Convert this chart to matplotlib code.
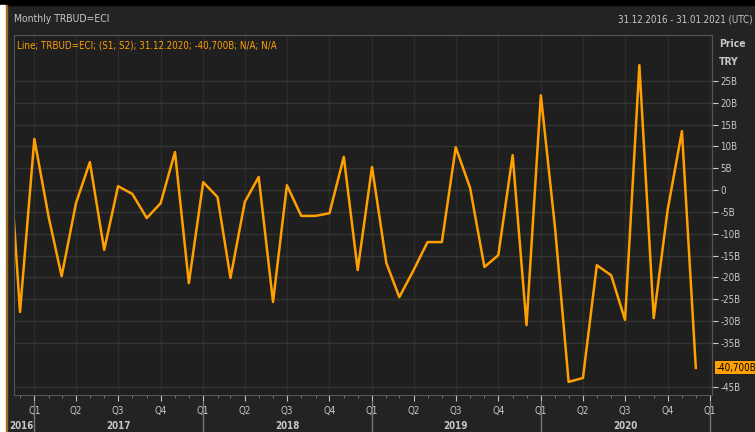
import matplotlib
matplotlib.use('Agg')
from matplotlib import pyplot as plt
import matplotlib.dates as mdates
import matplotlib.transforms as mtransforms
import pandas as pd
import numpy as np

plt.rcParams['font.family'] = ['Liberation Sans Narrow', 'DejaVu Sans']
plt.rcParams['font.stretch'] = 'condensed'

# Monthly TRBUD=ECI, billions TRY (Nov 2016 - Dec 2020)
months = pd.date_range('2016-11-01', periods=50, freq='MS')
values = [19.9, -27.9,
          11.7, -6.2, -19.7, -3.0, 6.4, -13.7, 0.9, -0.9, -6.4, -3.0, 8.7, -21.3,
          1.8, -1.6, -20.1, -2.7, 3.0, -25.6, 1.1, -5.9, -5.9, -5.3, 7.6, -18.3,
          5.3, -16.7, -24.5, -18.3, -11.9, -11.9, 9.8, 0.5, -17.6, -14.9, 8.0, -30.9,
          21.7, -9.0, -43.9, -43.0, -17.2, -19.5, -29.7, 28.6, -29.3, -4.6, 13.5, -40.7]
y_ticks = [25, 20, 15, 10, 5, 0, -5, -10, -15, -20, -25, -30, -35, -45]
years = [2017, 2018, 2019, 2020]
last_label = '-40,700B'

bg = '#232323'
txt = '#c8c8c8'
orange = '#ffa000'
fs = 7

fig = plt.figure(figsize=(7.55, 4.32), dpi=100, facecolor=bg)
ax = fig.add_axes([14/755, 37/432, 698/755, 360/432], facecolor='#1f1f1f')

ax.plot(months, values, color=orange, lw=1.8)

ax.set_xlim(pd.Timestamp('2016-11-18'), pd.Timestamp('2021-01-05'))
ax.set_ylim(-46.9, 35.5)

# grid
ax.set_yticks(y_ticks)
ax.set_yticklabels([('%dB' % v) if v != 0 else '0' for v in y_ticks])
ax.yaxis.tick_right()
ax.tick_params(axis='y', colors=txt, length=4, width=0.8, labelsize=fs, pad=2)
ax.grid(True, axis='y', color='#343434', lw=1)

ax.xaxis.set_major_locator(mdates.MonthLocator(bymonth=[1, 4, 7, 10]))
ax.xaxis.set_minor_locator(mdates.MonthLocator())
ax.xaxis.set_major_formatter(plt.FuncFormatter(
    lambda x, pos: 'Q%d' % ((mdates.num2date(x).month - 1) // 3 + 1)))
ax.tick_params(axis='x', which='major', colors=txt, length=4, labelsize=fs, pad=4)
ax.tick_params(axis='x', which='minor', colors='#888888', length=2)
ax.grid(True, axis='x', which='major', color='#2c2c2c', lw=1)

for s in ax.spines.values():
    s.set_color('#555555')

# year labels and separators
trans = mtransforms.blended_transform_factory(ax.transData, ax.transAxes)
for yr in years:
    ax.text(mdates.date2num(pd.Timestamp('%d-07-01' % yr)), -0.085, str(yr),
            transform=trans, ha='center', va='center', color=txt,
            fontsize=fs, fontweight='bold')
    ax.plot([pd.Timestamp('%d-01-01' % yr)] * 2, [-0.02, -0.105], transform=trans,
            color='#777777', lw=1, clip_on=False)
ax.plot([pd.Timestamp('2021-01-01')] * 2, [-0.02, -0.105], transform=trans,
        color='#777777', lw=1, clip_on=False)
ax.text(mdates.date2num(pd.Timestamp('2016-12-05')), -0.085, '2016',
        transform=trans, ha='center', va='center', color=txt,
        fontsize=fs, fontweight='bold')

# last value box
trans_y = mtransforms.blended_transform_factory(ax.transAxes, ax.transData)
ax.text(1.006, values[-1], last_label, transform=trans_y, ha='left', va='center',
        color='black', fontsize=fs,
        bbox=dict(boxstyle='square,pad=0.15', fc=orange, ec='none'))

# header and legend
fig.patches.append(plt.Rectangle((0, 1 - 5/432), 1, 5/432, transform=fig.transFigure,
                                 color='black'))
fig.patches.append(plt.Rectangle((0, 0), 5/755, 1 - 5/432, transform=fig.transFigure,
                                 color='white'))
fig.patches.append(plt.Rectangle((6/755, 0), 1/755, 1 - 5/432, transform=fig.transFigure,
                                 color='#a06a20'))
fig.text(14/755, 1 - 19/432, 'Monthly TRBUD=ECI', color=txt, fontsize=7.5,
         va='center', ha='left')
fig.text(753/755, 1 - 19/432, '31.12.2016 - 31.01.2021 (UTC)', color=txt,
         fontsize=fs, va='center', ha='right')
fig.text(719/755, 1 - 44/432, 'Price', color=txt, fontsize=7.5, va='center',
         fontweight='bold')
fig.text(719/755, 1 - 62/432, 'TRY', color=txt, fontsize=7.5, va='center',
         fontweight='bold')
ax.text(0.005, 0.97, 'Line; TRBUD=ECI; (S1; S2); 31.12.2020; -40,700B; N/A; N/A',
        transform=ax.transAxes, color=orange, fontsize=fs, va='center', ha='left')

fig.savefig('out.png', dpi=100, facecolor=bg)
